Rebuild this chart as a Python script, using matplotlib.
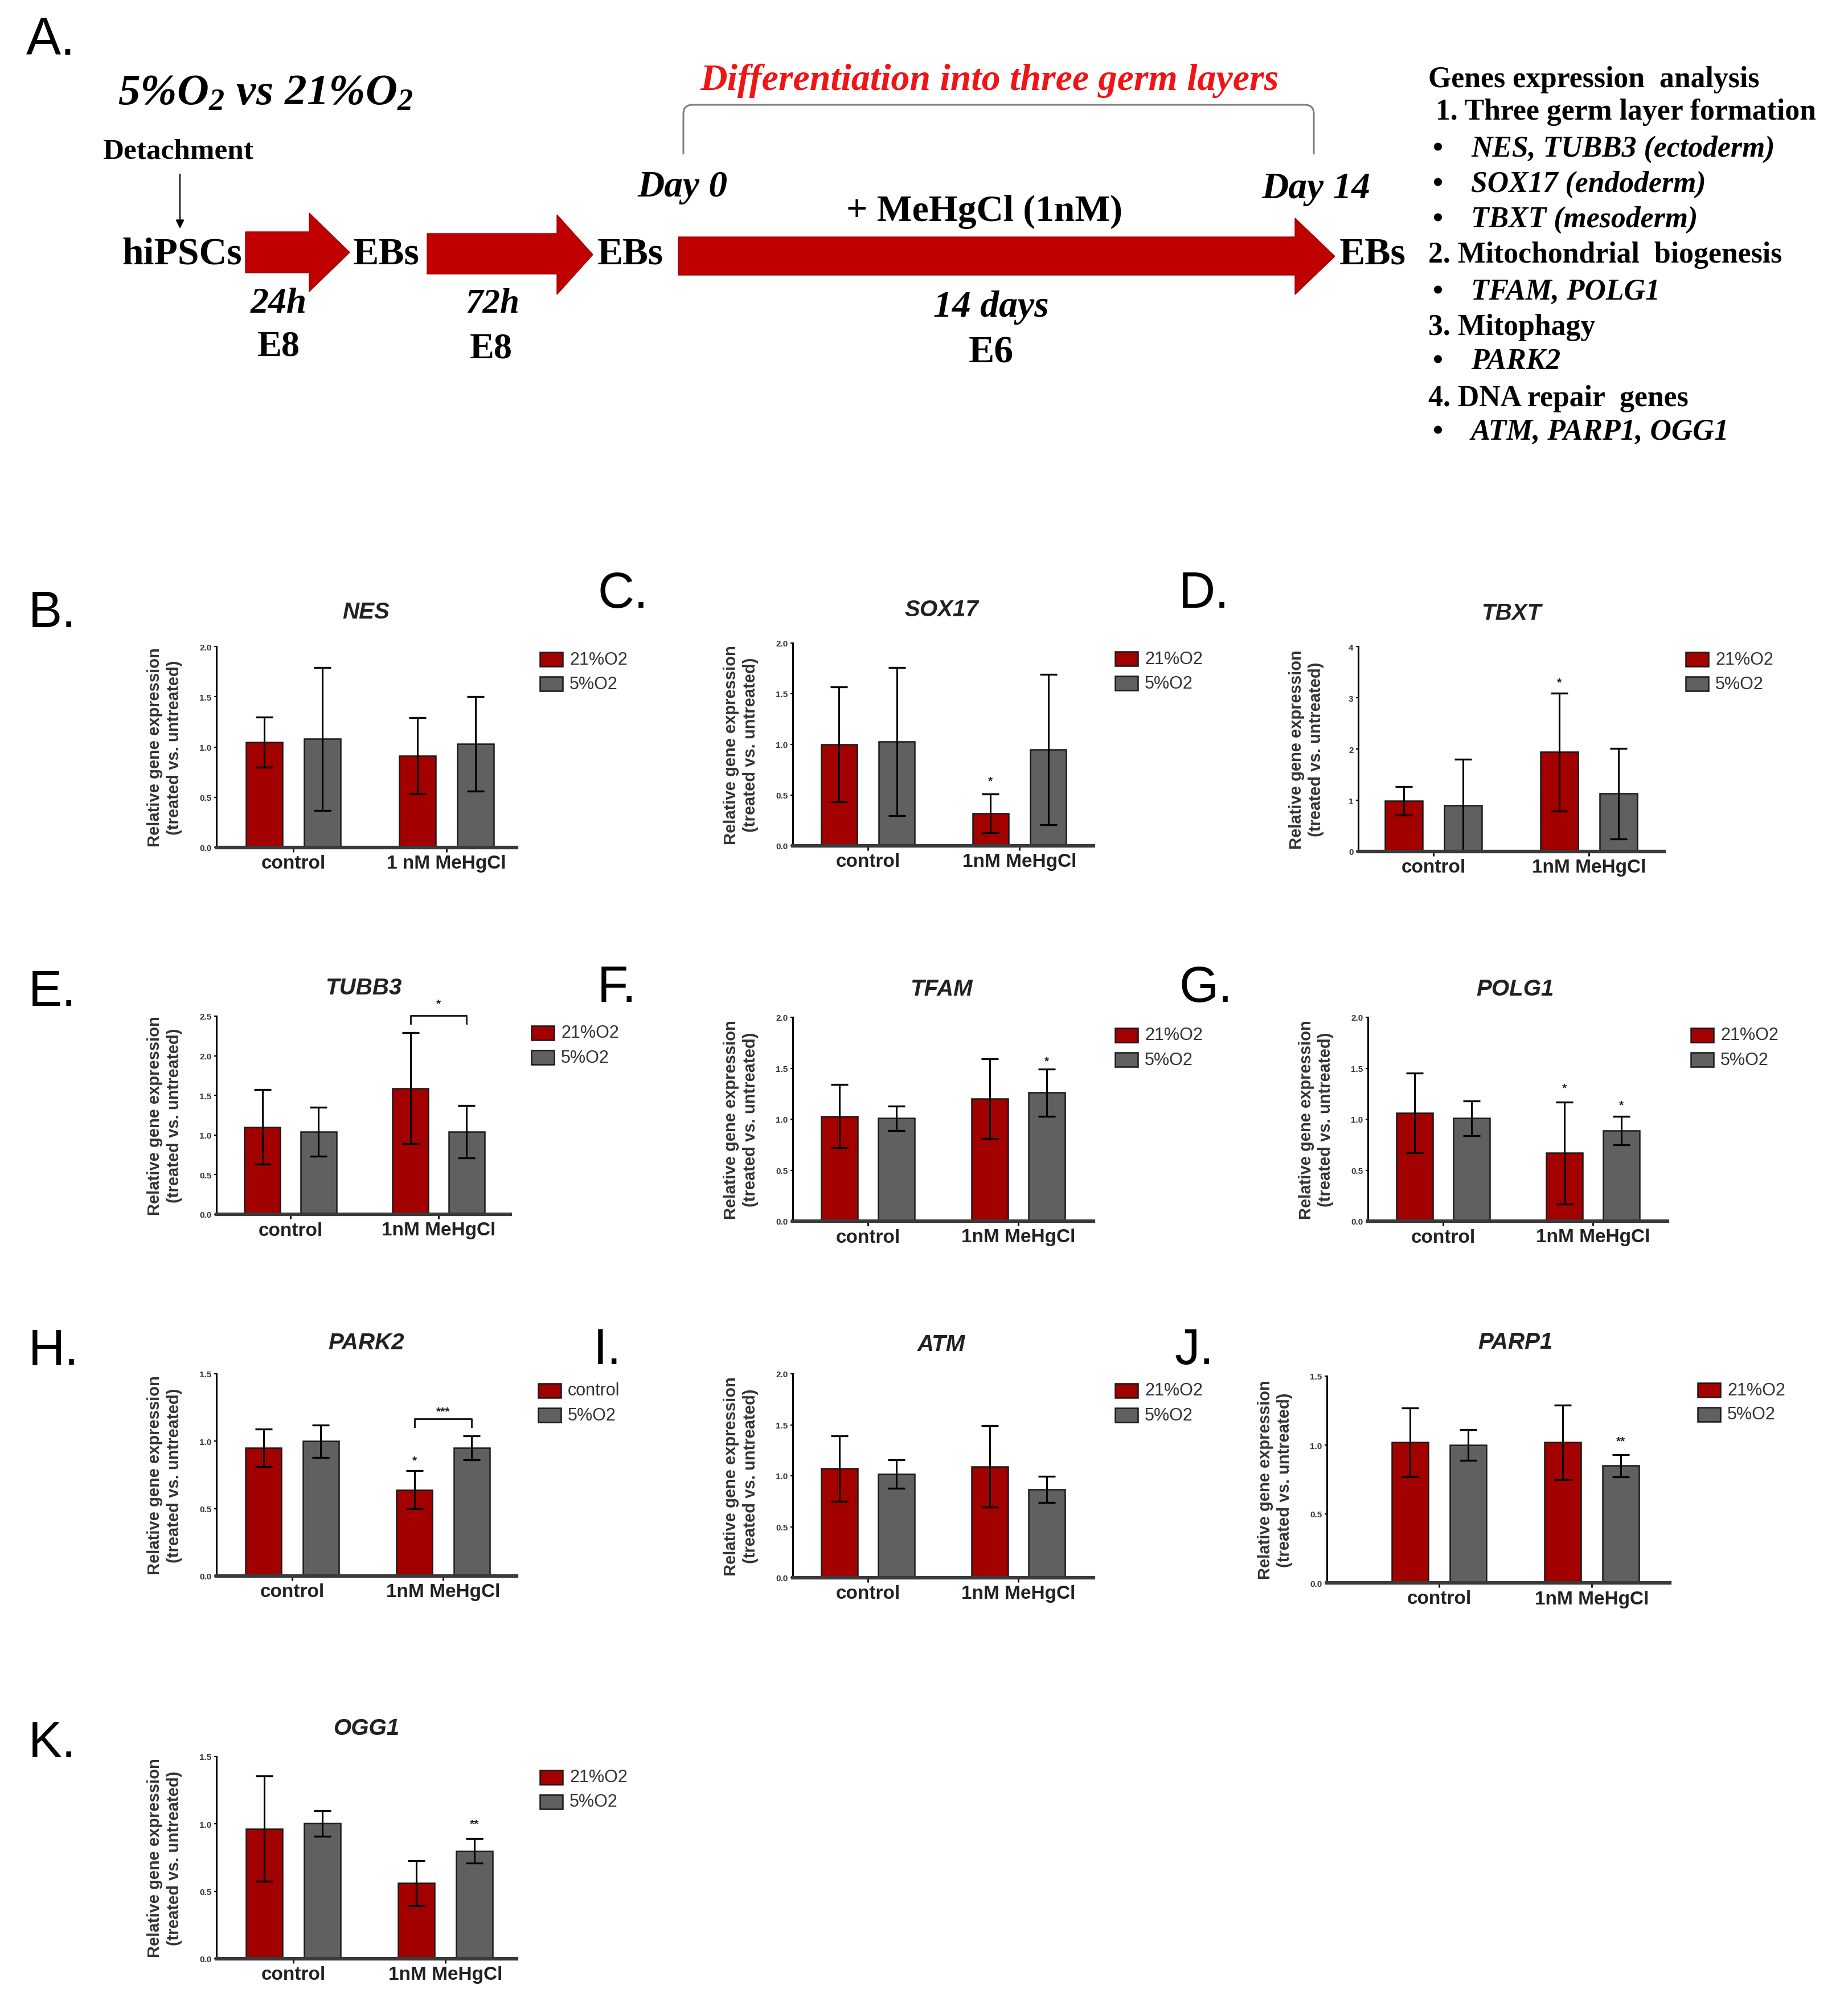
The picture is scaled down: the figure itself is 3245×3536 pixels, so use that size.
import matplotlib
matplotlib.use("Agg")
import matplotlib.pyplot as plt
import numpy as np
from matplotlib.patches import Polygon, Rectangle, PathPatch
from matplotlib.path import Path

W, H = 3245, 3537
DPI = 100

plt.rcParams['font.family'] = ['Liberation Sans', 'DejaVu Sans']
plt.rcParams['mathtext.fontset'] = 'custom'
plt.rcParams['mathtext.rm'] = 'Liberation Serif:bold:italic'
plt.rcParams['mathtext.it'] = 'Liberation Serif:bold:italic'
plt.rcParams['mathtext.bf'] = 'Liberation Serif:bold:italic'

# ---------------- data ----------------
genes = ["NES", "SOX17", "TBXT", "TUBB3", "TFAM", "POLG1", "PARK2", "ATM", "PARP1", "OGG1"]
group_labels = ["control", "1nM MeHgCl"]
group_labels_nes = ["control", "1 nM MeHgCl"]
series_labels = ["21%O2", "5%O2"]
series_labels_park2 = ["control", "5%O2"]

# mean expression [control, 1nM MeHgCl]
mean_21 = [[1.05, 0.91], [1.00, 0.32], [0.99, 1.94], [1.10, 1.59], [1.03, 1.20],
           [1.06, 0.67], [0.95, 0.64], [1.07, 1.09], [1.02, 1.02], [0.965, 0.56]]
mean_5 = [[1.08, 1.03], [1.03, 0.95], [0.90, 1.13], [1.04, 1.04], [1.01, 1.26],
          [1.01, 0.89], [1.00, 0.95], [1.015, 0.865], [1.00, 0.85], [1.005, 0.80]]
sd_21 = [[0.25, 0.38], [0.57, 0.19], [0.28, 1.15], [0.47, 0.70], [0.31, 0.39],
         [0.39, 0.50], [0.14, 0.14], [0.32, 0.40], [0.25, 0.27], [0.39, 0.165]]
sd_5 = [[0.71, 0.47], [0.73, 0.74], [0.90, 0.88], [0.31, 0.33], [0.12, 0.23],
        [0.17, 0.14], [0.12, 0.09], [0.14, 0.13], [0.11, 0.08], [0.095, 0.09]]
y_max = [2.0, 2.0, 4.0, 2.5, 2.0, 2.0, 1.5, 2.0, 1.5, 1.5]
y_step = [0.5, 0.5, 1.0, 0.5, 0.5, 0.5, 0.5, 0.5, 0.5, 0.5]

# significance marks: (gene, group index, series index, text, y)
sig_marks = [("SOX17", 1, 0, "*", 0.64), ("TBXT", 1, 0, "*", 3.3), ("TFAM", 1, 1, "*", 1.57),
             ("POLG1", 1, 0, "*", 1.31), ("POLG1", 1, 1, "*", 1.14), ("PARK2", 1, 0, "*", 0.86),
             ("PARP1", 1, 1, "**", 1.03), ("OGG1", 1, 1, "**", 1.0)]
# brackets: (gene, group index, text, y of line, y of text)
sig_brackets = [("TUBB3", 1, "*", 2.51, 2.66), ("PARK2", 1, "***", 1.165, 1.22)]

# ---------------- layout (pixels) ----------------
LAYOUT = {
    "NES":   dict(letter="B.", box=(380, 1136, 907, 1489), ticks=(515, 784), leg=(948, 1146), title=(643, 1075), lab=(50, 1078)),
    "SOX17": dict(letter="C.", box=(1392, 1130, 1920, 1486), ticks=(1524, 1790), leg=(1958, 1145), title=(1653, 1071), lab=(1049, 1044)),
    "TBXT":  dict(letter="D.", box=(2385, 1136, 2922, 1496), ticks=(2517, 2790), leg=(2960, 1146), title=(2654, 1077), lab=(2070, 1044)),
    "TUBB3": dict(letter="E.", box=(380, 1785, 896, 2133), ticks=(510, 770), leg=(933, 1802), title=(638, 1735), lab=(50, 1743)),
    "TFAM":  dict(letter="F.", box=(1392, 1787, 1920, 2145), ticks=(1524, 1788), leg=(1958, 1806), title=(1653, 1737), lab=(1049, 1736)),
    "POLG1": dict(letter="G.", box=(2402, 1787, 2928, 2145), ticks=(2534, 2797), leg=(2969, 1806), title=(2660, 1737), lab=(2070, 1736)),
    "PARK2": dict(letter="H.", box=(380, 2413, 907, 2768), ticks=(513, 778), leg=(945, 2430), title=(643, 2358), lab=(50, 2372)),
    "ATM":   dict(letter="I.", box=(1392, 2413, 1920, 2771), ticks=(1524, 1788), leg=(1958, 2430), title=(1653, 2361), lab=(1042, 2372)),
    "PARP1": dict(letter="J.", box=(2330, 2417, 2932, 2780), ticks=(2527, 2795), leg=(2981, 2429), title=(2661, 2357), lab=(2063, 2372)),
    "OGG1":  dict(letter="K.", box=(380, 3085, 907, 3440), ticks=(515, 782), leg=(948, 3109), title=(643, 3035), lab=(50, 3062)),
}

RED = "#a30000"
GRAY = "#606060"
EDGE = "#1a1a1a"
ARROW_RED = "#c00000"
BW = 0.24
OFF = 0.19

fig = plt.figure(figsize=(W / DPI, H / DPI), dpi=DPI)
fig.patch.set_facecolor("white")
ov = fig.add_axes([0, 0, 1, 1])
ov.set_xlim(0, W)
ov.set_ylim(H, 0)
ov.axis("off")
renderer = fig.canvas.get_renderer()

SERIF = ["Liberation Serif", "DejaVu Serif"]


def ftext(x, y, s, width=None, size=30, ha="left", va="center", **kw):
    t = ov.text(x, y, s, fontsize=size, ha=ha, va=va, **kw)
    if width:
        bb = t.get_window_extent(renderer)
        if bb.width > 0:
            t.set_fontsize(size * width / bb.width)
    return t


# ---------------- panel A schematic ----------------
ftext(46, 72, "A.", size=66)
ftext(207, 163, r"$5\%O_2\ vs\ 21\%O_2$", width=519, size=50)
ftext(180, 266, "Detachment", width=264, family=SERIF, weight="bold")
ov.annotate("", xy=(316, 405), xytext=(316, 304),
            arrowprops=dict(arrowstyle="-|>", color="black", lw=1.6, mutation_scale=22))
ftext(214, 447, "hiPSCs", width=210, family=SERIF, weight="bold")
ftext(620, 447, "EBs", width=117, family=SERIF, weight="bold")
ftext(1049, 447, "EBs", width=116, family=SERIF, weight="bold")
ftext(2352, 447, "EBs", width=117, family=SERIF, weight="bold")
ftext(440, 534, "24h", width=99, family=SERIF, weight="bold", style="italic")
ftext(452, 609, "E8", width=75, family=SERIF, weight="bold")
ftext(817, 534, "72h", width=95, family=SERIF, weight="bold", style="italic")
ftext(825, 613, "E8", width=75, family=SERIF, weight="bold")
ftext(1119, 329, "Day 0", width=158, family=SERIF, weight="bold", style="italic")
ftext(2215, 332, "Day 14", width=191, family=SERIF, weight="bold", style="italic")
ftext(1486, 372, "+ MeHgCl (1nM)", width=485, family=SERIF, weight="bold")
ftext(1639, 540, "14 days", width=203, family=SERIF, weight="bold", style="italic")
ftext(1701, 620, "E6", width=79, family=SERIF, weight="bold")
ftext(1229, 142, "Differentiation into three germ layers", width=1016, family=SERIF,
      weight="bold", style="italic", color="#f01515")

# arrows
for (x0, xh, tip, by0, by1, hy0, hy1) in [(431, 543, 614, 408, 480, 375, 513),
                                          (750, 978, 1041, 411, 482, 378, 518),
                                          (1191, 2274, 2344, 417, 484, 384, 518)]:
    cy = (hy0 + hy1) / 2
    ov.add_patch(Polygon([(x0, by0), (xh, by0), (xh, hy0), (tip, cy), (xh, hy1), (xh, by1), (x0, by1)],
                         closed=True, fc=ARROW_RED, ec="#9a0000", lw=1.0))

# bracket over differentiation
r = 16
verts = [(1200, 272), (1200, 185 + r), (1200, 185), (1200 + r, 185), (2307 - r, 185),
         (2307, 185), (2307, 185 + r), (2307, 272)]
codes = [Path.MOVETO, Path.LINETO, Path.CURVE3, Path.CURVE3, Path.LINETO,
         Path.CURVE3, Path.CURVE3, Path.LINETO]
ov.add_patch(PathPatch(Path(verts, codes), fc="none", ec="#7f7f7f", lw=2.2))

# right text block
hdr = ftext(2521, 197, "1. Three germ layer formation", width=668, size=34, family=SERIF, weight="bold")
fs = hdr.get_fontsize()
ftext(2508, 140, "Genes expression  analysis", size=fs, family=SERIF, weight="bold")
ftext(2508, 448, "2. Mitochondrial  biogenesis", size=fs, family=SERIF, weight="bold")
ftext(2508, 575, "3. Mitophagy", size=fs, family=SERIF, weight="bold")
ftext(2508, 700, "4. DNA repair  genes", size=fs, family=SERIF, weight="bold")
for yy, s in [(262, "NES, TUBB3 (ectoderm)"), (324, "SOX17 (endoderm)"), (386, "TBXT (mesoderm)"),
              (513, "TFAM, POLG1"), (635, "PARK2"), (759, "ATM, PARP1, OGG1")]:
    ftext(2516, yy, "\u2022", size=fs, family=SERIF, weight="bold")
    ftext(2583, yy, s, size=fs, family=SERIF, weight="bold", style="italic")

# ---------------- bar panels ----------------
ekw = dict(ecolor="black", elinewidth=2.2, capsize=11, capthick=2.4)
for gi, gene in enumerate(genes):
    lay = LAYOUT[gene]
    L, T, R, Bm = lay["box"]
    t0, t1 = lay["ticks"]
    u = t1 - t0
    ax = fig.add_axes([L / W, 1 - Bm / H, (R - L) / W, (Bm - T) / H])
    ax.patch.set_alpha(0)
    ax.set_xlim((L - t0) / u, (R - t0) / u)
    ax.set_ylim(0, y_max[gi])
    x = np.arange(2)
    ax.bar(x - OFF, mean_21[gi], BW, yerr=sd_21[gi], color=RED, edgecolor=EDGE, linewidth=1.8,
           error_kw=ekw, zorder=2)
    ax.bar(x + OFF, mean_5[gi], BW, yerr=sd_5[gi], color=GRAY, edgecolor=EDGE, linewidth=1.8,
           error_kw=ekw, zorder=2)
    for sp in ["top", "right"]:
        ax.spines[sp].set_visible(False)
    ax.spines["left"].set_linewidth(2.2)
    ax.spines["left"].set_color("black")
    ax.spines["bottom"].set_linewidth(4.5)
    ax.spines["bottom"].set_color("#3a3a3a")
    ax.spines["bottom"].set_zorder(3)
    yt = np.arange(0, y_max[gi] + 1e-9, y_step[gi])
    ax.set_yticks(yt)
    if y_step[gi] >= 1:
        ax.set_yticklabels(["%d" % v for v in yt])
    else:
        ax.set_yticklabels(["%.1f" % v for v in yt])
    ax.tick_params(axis="y", length=3, width=1.5, pad=3, labelsize=11)
    for lbl in ax.get_yticklabels():
        lbl.set_fontweight("bold")
        lbl.set_color("#333333")
    ax.set_xticks(x)
    ax.set_xticklabels(group_labels_nes if gene == "NES" else group_labels,
                       fontsize=24, fontweight="bold", color="#222222")
    ax.tick_params(axis="x", length=6, width=2, pad=3)

    for (g, grp, ser, txt, yv) in sig_marks:
        if g == gene:
            ax.text(grp + (OFF if ser else -OFF), yv, txt, ha="center", va="center",
                    fontsize=15, fontweight="bold", color="#222222")
    for (g, grp, txt, yl, yt_) in sig_brackets:
        if g == gene:
            d = 0.04 * y_max[gi]
            ax.plot([grp - OFF, grp - OFF, grp + OFF, grp + OFF], [yl - d, yl, yl, yl - d],
                    color="#222222", lw=2.2, clip_on=False)
            ax.text(grp, yt_, txt, ha="center", va="center", fontsize=15,
                    fontweight="bold", color="#222222", clip_on=False)

    # title, ylabel, panel letter
    tx, ty = lay["title"]
    ftext(tx, ty, gene, size=29, ha="center", weight="bold", style="italic", color="#222222")
    ov.text(L - 91, (T + Bm) / 2, "Relative gene expression\n(treated vs. untreated)", rotation=90,
            ha="center", va="center", fontsize=21, fontweight="bold", color="#333333",
            multialignment="center", linespacing=1.25)
    lx, ly = lay["lab"]
    ftext(lx, ly, lay["letter"], size=64)

    # legend
    gx, gy = lay["leg"]
    labels = series_labels_park2 if gene == "PARK2" else series_labels
    for k, (col, lab) in enumerate(zip([RED, GRAY], labels)):
        ov.add_patch(Rectangle((gx, gy + 43 * k), 40, 25, fc=col, ec=EDGE, lw=1.8))
        ov.text(gx + 52, gy + 43 * k + 12.5, lab, ha="left", va="center", fontsize=22, color="#333333")

fig.savefig("out.png", dpi=DPI)
